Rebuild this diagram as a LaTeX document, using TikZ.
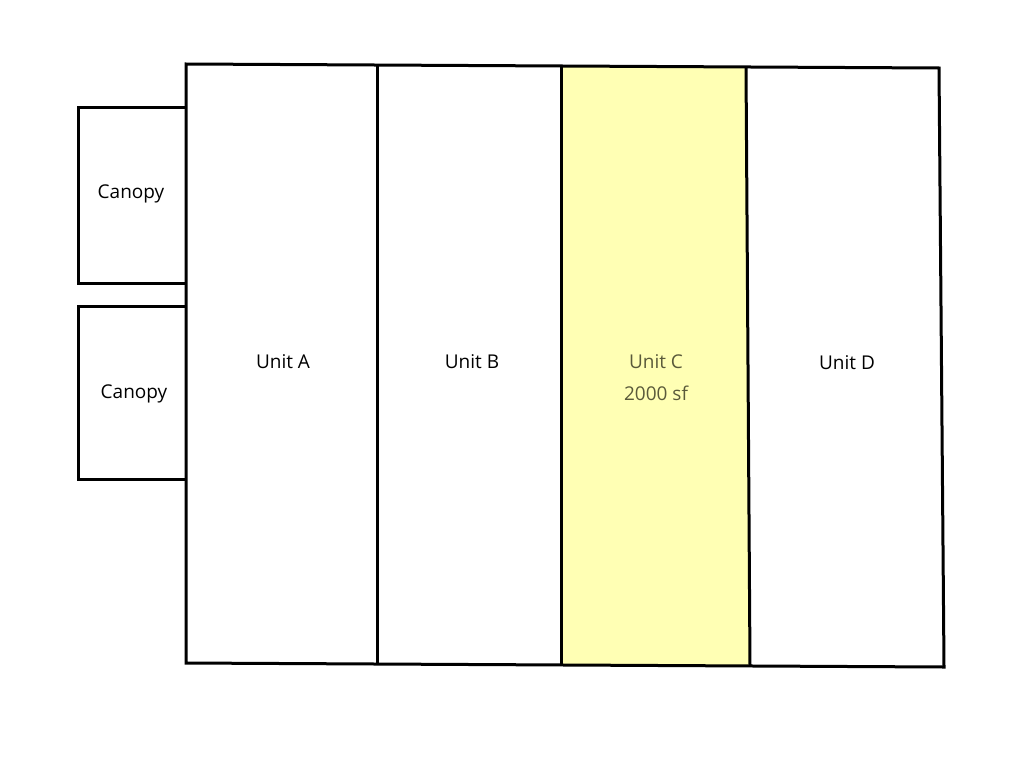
\documentclass[tikz,border=0pt]{standalone}
\usepackage{fontspec}
\setmainfont{Open Sans}
\definecolor{ufill}{HTML}{FFFFB4}
\definecolor{utext}{HTML}{5A5A3A}
\begin{document}
\begin{tikzpicture}[x=1pt,y=-1pt,
  wall/.style={draw=black,line width=3pt,line join=miter},
  lbl/.style={font=\fontsize{19}{32}\selectfont,align=center}]
\useasboundingbox[fill=white] (0,0) rectangle (1019,768);
\fill[ufill] (561,66) -- (746,67) -- (750,666) -- (561,665) -- cycle;
\draw[wall] (186,64) -- (939,68) -- (944,667) -- (186,663) -- cycle;
\draw[wall] (377,64) -- (377,664);
\draw[wall] (561,66) -- (561,665);
\draw[wall] (746,67) -- (750,666);
\draw[wall] (186,107) -- (78,107) -- (78,283) -- (186,283);
\draw[wall] (186,306) -- (78,306) -- (78,479) -- (186,479);
\node[lbl] (ca1) at (131,194) {Canopy};
\node[lbl] (ca2) at (134,394) {Canopy};
\node[lbl] (ua) at (283,362) {Unit A};
\node[lbl] (ub) at (472,362) {Unit B};
\node[lbl,text=utext] (uc) at (656,378) {Unit C\\2000 sf};
\node[lbl] (ud) at (847,363) {Unit D};
\end{tikzpicture}
\end{document}
